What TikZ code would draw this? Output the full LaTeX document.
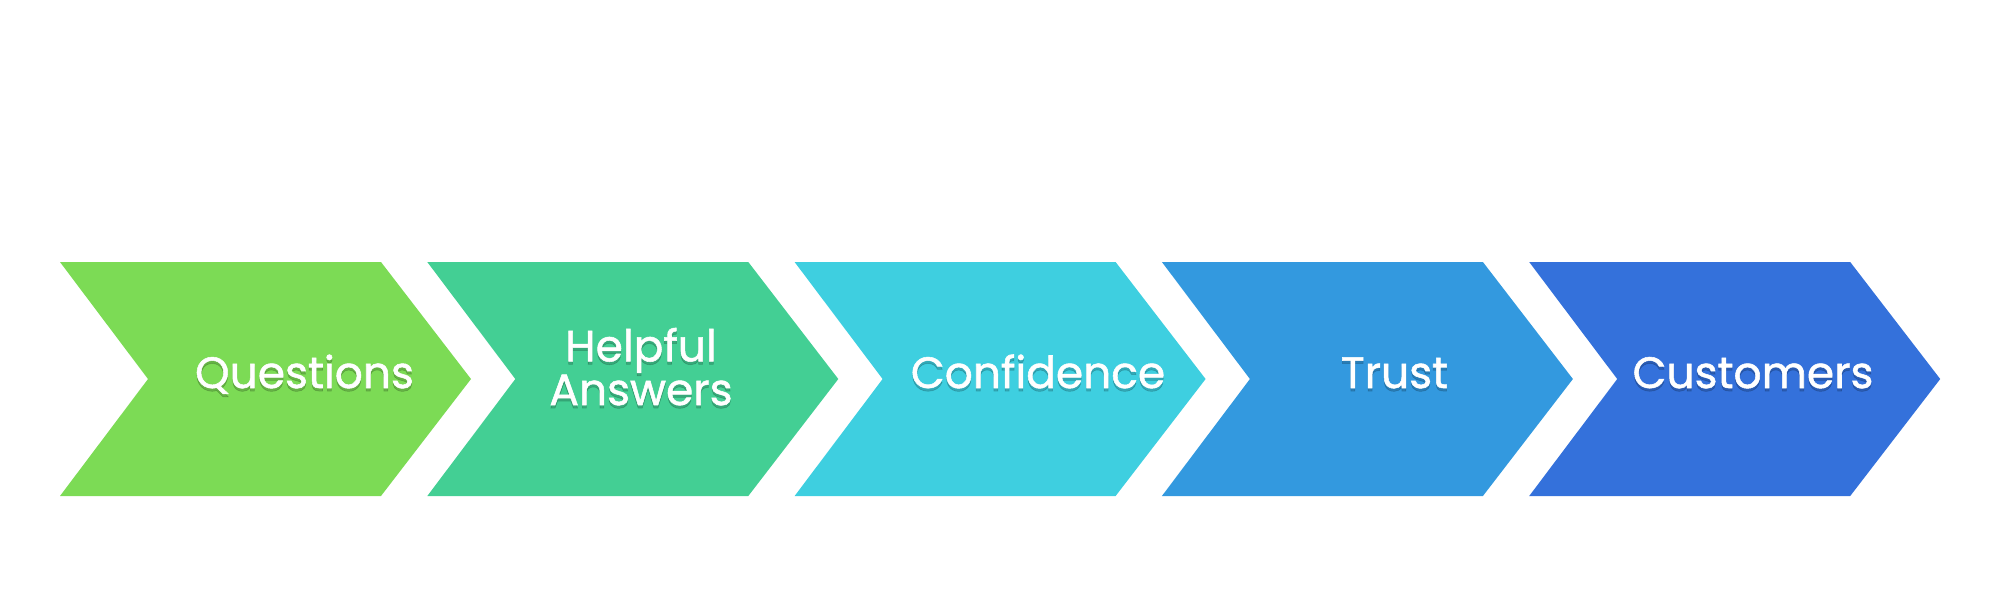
\documentclass[tikz,border=0pt]{standalone}
\usepackage{fontspec}
\setmainfont{Poppins}[FakeBold=1.2]
\definecolor{cA}{HTML}{7CDB55}
\definecolor{cB}{HTML}{43CF94}
\definecolor{cC}{HTML}{3ECFE0}
\definecolor{cD}{HTML}{3399DF}
\definecolor{cE}{HTML}{3471DB}
\newcommand\chevat[2]{%
  \fill[#2] (#1,262) -- ++(321,0) -- ++(90,117) -- ++(-90,117) -- ++(-321,0) -- ++(88,-117) -- cycle;}
\newcommand\shlabel[4]{%
  \node[lbl,text=black,text opacity=0.18] at (#2,#3+3) {#4};
  \node[lbl] (#1) at (#2,#3) {#4};}
\begin{document}
\begin{tikzpicture}[x=0.02cm,y=-0.02cm,
  lbl/.style={text=white,font=\fontsize{25}{21.8}\selectfont,align=center,anchor=base,inner sep=0pt}]
\useasboundingbox (0,0) rectangle (2000,600);
\chevat{60}{cA}
\chevat{427.3}{cB}
\chevat{794.6}{cC}
\chevat{1161.9}{cD}
\chevat{1529.2}{cE}
\shlabel{q}{304.5}{388}{Questions}
\shlabel{h}{641}{405}{Helpful\\Answers}
\shlabel{c}{1038}{388}{Confidence}
\shlabel{t}{1394.5}{388}{Trust}
\shlabel{u}{1753}{388}{Customers}
\end{tikzpicture}
\end{document}
